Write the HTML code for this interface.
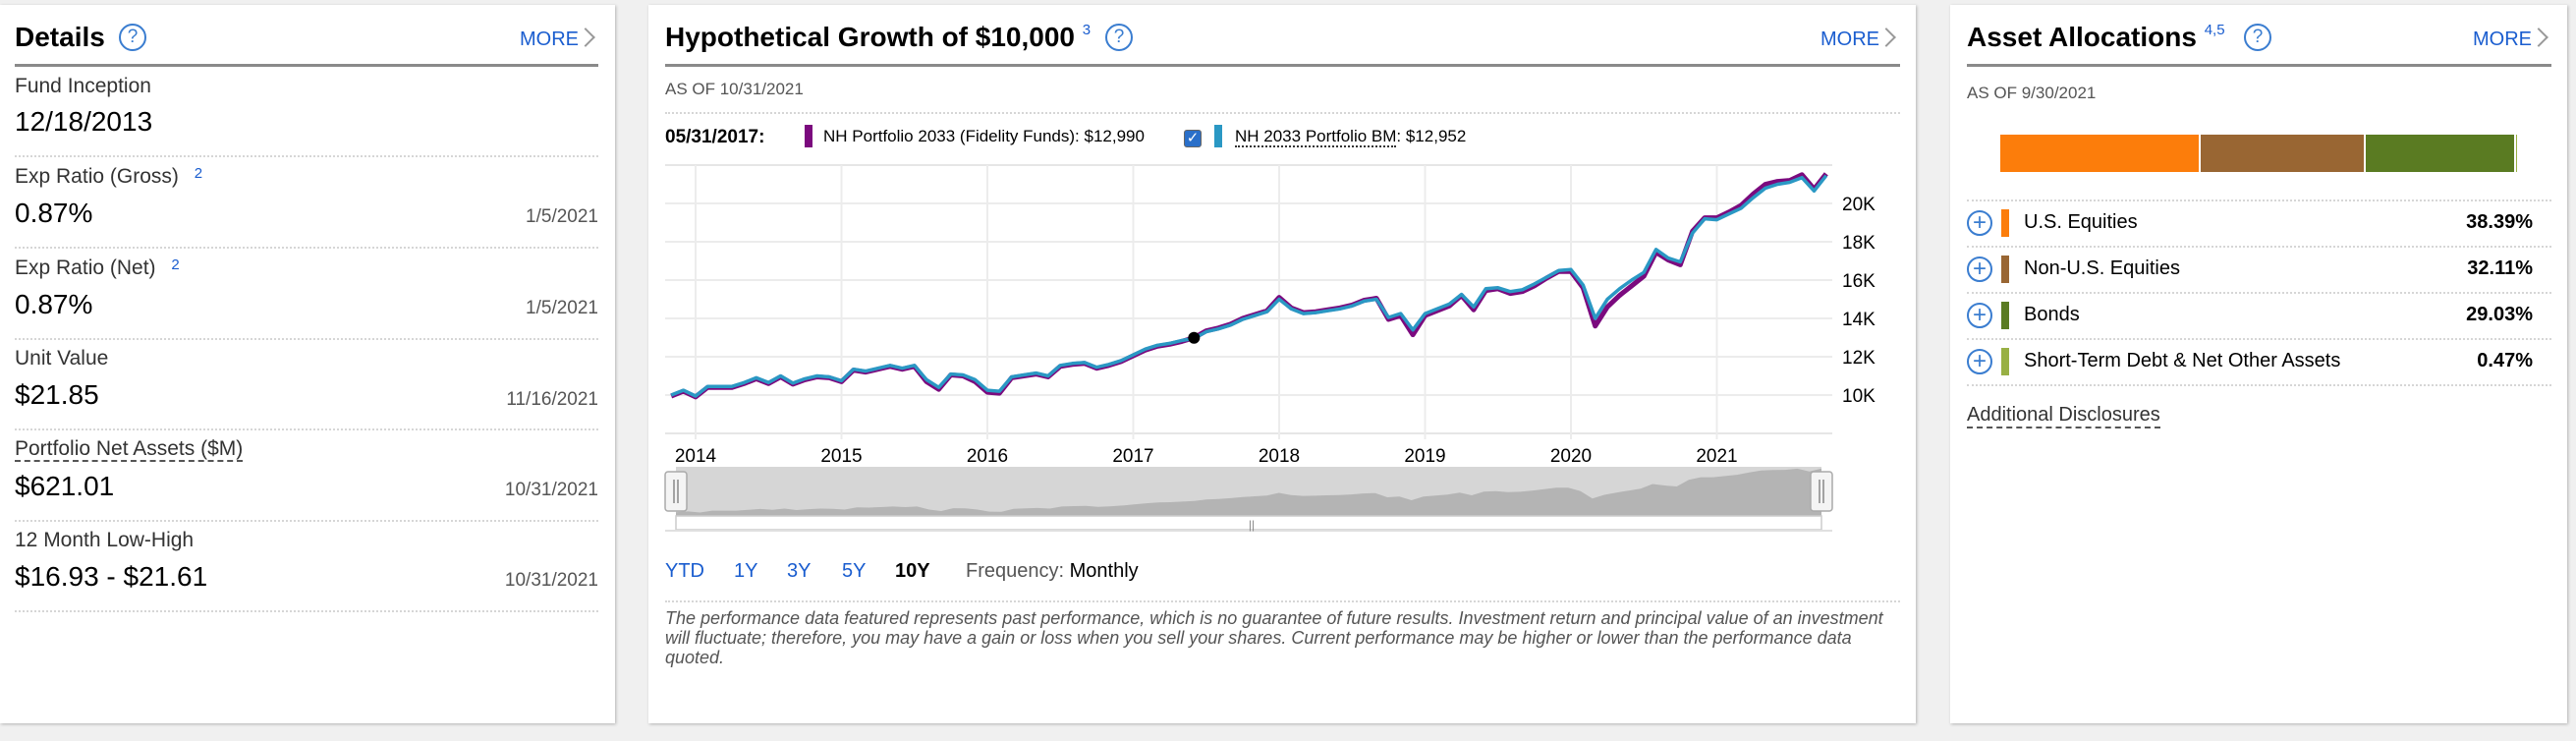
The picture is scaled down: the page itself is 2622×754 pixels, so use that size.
<!DOCTYPE html>
<html><head><meta charset="utf-8">
<style>
*{box-sizing:border-box;margin:0;padding:0}
body{width:2622px;height:754px;background:#f0f0f0;font-family:"Liberation Sans",Arial,sans-serif;position:relative;overflow:hidden;color:#000}
.panel{position:absolute;top:5px;height:731px;background:#fff;box-shadow:1px 1px 3px rgba(0,0,0,.25)}
.abs{position:absolute;white-space:nowrap}
.title{font-size:28px;font-weight:bold;top:17px}
.more{font-size:20px;color:#1a5dcf;top:24px}
.hline{position:absolute;height:3px;background:#8a8a8a;top:60px}
.dot{position:absolute;height:0;border-top:2px dotted #d6d6d6}
.help{position:absolute;width:28px;height:28px;border:2px solid #3a7dd0;border-radius:50%;color:#3a7dd0;font-size:19px;text-align:center;line-height:24px;top:19px}
.lbl{font-size:21px;color:#333}
.val{font-size:28px;color:#000}
.date{font-size:19px;color:#555;text-align:right}
.sup{font-size:15px;color:#1a5dcf;vertical-align:top;position:relative;top:0px}
.chev{position:absolute;width:14px;height:14px;border-top:2px solid #999;border-right:2px solid #999;transform:rotate(45deg)}
</style></head><body>

<!-- DETAILS PANEL -->
<div class="panel" style="left:0;width:626px">
  <div class="abs title" style="left:15px">Details</div>
  <div class="help" style="left:121px">?</div>
  <div class="abs more" style="left:529px">MORE</div>
  <div class="chev" style="left:589px;top:26px"></div>
  <div class="hline" style="left:15px;width:594px"></div>

  <div class="abs lbl" style="left:15px;top:71px">Fund Inception</div>
  <div class="abs val" style="left:15px;top:103px">12/18/2013</div>
  <div class="dot" style="left:15px;width:594px;top:153px"></div>

  <div class="abs lbl" style="left:15px;top:163px">Exp Ratio (Gross) <sup class="sup" style="margin-left:10px">2</sup></div>
  <div class="abs val" style="left:15px;top:196px">0.87%</div>
  <div class="abs date" style="right:17px;top:205px">1/5/2021</div>
  <div class="dot" style="left:15px;width:594px;top:246px"></div>

  <div class="abs lbl" style="left:15px;top:256px">Exp Ratio (Net) <sup class="sup" style="margin-left:10px">2</sup></div>
  <div class="abs val" style="left:15px;top:289px">0.87%</div>
  <div class="abs date" style="right:17px;top:298px">1/5/2021</div>
  <div class="dot" style="left:15px;width:594px;top:339px"></div>

  <div class="abs lbl" style="left:15px;top:348px">Unit Value</div>
  <div class="abs val" style="left:15px;top:381px">$21.85</div>
  <div class="abs date" style="right:17px;top:391px">11/16/2021</div>
  <div class="dot" style="left:15px;width:594px;top:431px"></div>

  <div class="abs lbl" style="left:15px;top:441px;border-bottom:2px dashed #555;line-height:22px">Portfolio Net Assets ($M)</div>
  <div class="abs val" style="left:15px;top:474px">$621.01</div>
  <div class="abs date" style="right:17px;top:483px">10/31/2021</div>
  <div class="dot" style="left:15px;width:594px;top:524px"></div>

  <div class="abs lbl" style="left:15px;top:533px">12 Month Low-High</div>
  <div class="abs val" style="left:15px;top:566px">$16.93 - $21.61</div>
  <div class="abs date" style="right:17px;top:575px">10/31/2021</div>
  <div class="dot" style="left:15px;width:594px;top:616px"></div>
</div>

<!-- GROWTH PANEL -->
<div class="panel" style="left:660px;width:1290px">
  <div class="abs title" style="left:17px">Hypothetical Growth of $10,000 <sup class="sup" style="font-weight:normal">3</sup></div>
  <div class="help" style="left:465px">?</div>
  <div class="abs more" style="left:1193px">MORE</div>
  <div class="chev" style="left:1253px;top:26px"></div>
  <div class="hline" style="left:17px;width:1257px"></div>
  <div class="abs" style="left:17px;top:76px;font-size:17px;color:#555">AS OF 10/31/2021</div>
  <div class="dot" style="left:17px;width:1257px;top:109px"></div>

  <div class="abs" style="left:17px;top:124px;font-size:19px;font-weight:bold">05/31/2017:</div>
  <div class="abs" style="left:159px;top:122px;width:8px;height:23px;background:#7b0a7e"></div>
  <div class="abs" style="left:178px;top:124px;font-size:17px">NH Portfolio 2033 (Fidelity Funds): $12,990</div>
  <div class="abs" style="left:545px;top:127px;width:18px;height:18px;background:#2a6fc9;border:1px solid #666;border-radius:3px;color:#fff;font-size:15px;line-height:16px;text-align:center">✓</div>
  <div class="abs" style="left:576px;top:122px;width:8px;height:23px;background:#2a98c4"></div>
  <div class="abs" style="left:597px;top:124px;font-size:17px"><span style="border-bottom:2px dotted #333">NH 2033 Portfolio BM</span>: $12,952</div>

  <div class="abs" style="left:17px;top:565px;font-size:20px;color:#1a5dcf">YTD</div>
  <div class="abs" style="left:87px;top:565px;font-size:20px;color:#1a5dcf">1Y</div>
  <div class="abs" style="left:141px;top:565px;font-size:20px;color:#1a5dcf">3Y</div>
  <div class="abs" style="left:197px;top:565px;font-size:20px;color:#1a5dcf">5Y</div>
  <div class="abs" style="left:251px;top:565px;font-size:20px;font-weight:bold">10Y</div>
  <div class="abs" style="left:323px;top:565px;font-size:20px;color:#555">Frequency: <span style="color:#000">Monthly</span></div>
  <div class="dot" style="left:17px;width:1257px;top:606px"></div>
  <div class="abs" style="left:17px;top:614px;width:1245px;white-space:normal;font-size:18px;line-height:20px;font-style:italic;color:#555">The performance data featured represents past performance, which is no guarantee of future results. Investment return and principal value of an investment will fluctuate; therefore, you may have a gain or loss when you sell your shares. Current performance may be higher or lower than the performance data quoted.</div>
</div>

<svg id="chart" class="abs" style="left:0;top:0" width="2622" height="754"></svg>

<!-- ASSET PANEL -->
<div class="panel" style="left:1985px;width:628px">
  <div class="abs title" style="left:17px">Asset Allocations <sup class="sup" style="font-weight:normal">4,5</sup></div>
  <div class="help" style="left:299px">?</div>
  <div class="abs more" style="left:532px">MORE</div>
  <div class="chev" style="left:592px;top:26px"></div>
  <div class="hline" style="left:17px;width:595px"></div>
  <div class="abs" style="left:17px;top:80px;font-size:17px;color:#555">AS OF 9/30/2021</div>
  <div id="allocbar" class="abs" style="left:51px;top:132px;width:526px;height:38px;display:flex"></div>
  <div id="alloclist"></div>
  <div class="abs" style="left:17px;top:405px;font-size:20px;color:#333;border-bottom:2px dashed #555;line-height:24px">Additional Disclosures</div>
</div>

<script>
const NS='http://www.w3.org/2000/svg';
// ---- chart data ----
const startYear=2013.833;
const fundValues=[9.95,10.2,9.9,10.4,10.4,10.4,10.6,10.85,10.6,10.95,10.57,10.8,10.95,10.9,10.7,11.3,11.2,11.35,11.5,11.35,11.5,10.7,10.3,11.05,11.0,10.7,10.15,10.1,10.9,11.0,11.1,10.95,11.5,11.6,11.65,11.4,11.55,11.75,12.05,12.35,12.55,12.65,12.8,12.99,13.35,13.5,13.7,14.0,14.2,14.4,15.1,14.55,14.3,14.35,14.45,14.55,14.7,14.95,15.05,13.95,14.15,13.15,14.15,14.4,14.65,15.2,14.45,15.45,15.55,15.3,15.4,15.7,16.1,16.45,16.45,15.6,13.6,14.6,15.2,15.7,16.2,17.45,17.05,16.8,18.55,19.25,19.25,19.55,19.9,20.5,21.0,21.15,21.2,21.5,20.75,21.55];
const bmValues=[10.0,10.25,9.95,10.45,10.45,10.45,10.65,10.9,10.65,11.0,10.62,10.85,11.0,10.95,10.75,11.35,11.25,11.4,11.55,11.4,11.55,10.8,10.4,11.1,11.05,10.8,10.25,10.2,10.95,11.05,11.15,11.0,11.55,11.65,11.7,11.45,11.6,11.8,12.1,12.4,12.6,12.7,12.85,12.95,13.3,13.45,13.65,13.95,14.15,14.35,15.0,14.5,14.25,14.3,14.4,14.5,14.65,14.9,15.0,14.05,14.25,13.4,14.25,14.5,14.75,15.25,14.6,15.55,15.6,15.4,15.5,15.8,16.15,16.5,16.55,15.75,14.0,15.0,15.55,16.0,16.4,17.6,17.15,16.95,18.45,19.2,19.15,19.45,19.75,20.3,20.8,21.0,21.1,21.35,20.65,21.45];
const yTicks=[10,12,14,16,18,20];
const yTickLabels=['10K','12K','14K','16K','18K','20K'];
const yearTicks=[2014,2015,2016,2017,2018,2019,2020,2021];
const markerIndex=43;

const X0=660+17, X1=660+1205, YT=168, YB=441;
function xs(t){return 708+(t-2014)*148.5;}
function ys(v){return YB-(v-8)/(22-8)*(YB-YT);}
function xNav(t){return 688+(t-startYear)/(2021.75-startYear)*(1854-688);}
function yNav(v){return 525-(v-9)/(22-9)*50;}
const svg=document.getElementById('chart');
function mk(tag,attrs,parent){const e=document.createElementNS(NS,tag);for(const k in attrs)e.setAttribute(k,attrs[k]);(parent||svg).appendChild(e);return e;}

let g=mk('line',{x1:X0,x2:X1,y1:YT,y2:YT,stroke:'#e6e6e6','stroke-width':2});


g=mk('line',{x1:X0,x2:X1,y1:YB,y2:YB,stroke:'#e6e6e6','stroke-width':2});


yTicks.forEach((v,i)=>{
  const l=mk('line',{x1:X0,x2:X1,y1:ys(v),y2:ys(v),stroke:'#ececec','stroke-width':2});
  
  
  const t=mk('text',{x:X1+10,y:ys(v)+7,'font-size':19,fill:'#000','font-family':'Liberation Sans, sans-serif'});
  t.textContent=yTickLabels[i];
  
  
});
yearTicks.forEach(yr=>{
  const x=xs(yr);
  const l=mk('line',{x1:x,x2:x,y1:YT,y2:YB+6,stroke:'#ececec','stroke-width':2});
  
  
  const t=mk('text',{x:x,y:470,'font-size':19,'text-anchor':'middle',fill:'#000','font-family':'Liberation Sans, sans-serif'});
  t.textContent=String(yr);
  
  
});
function pts(arr,fx,fy){return arr.map((v,i)=>fx(startYear+i/12).toFixed(1)+','+fy(v).toFixed(1)).join(' ');}
let p=mk('polyline',{points:pts(fundValues,xs,ys),fill:'none',stroke:'#7b0a7e','stroke-width':5,'stroke-linejoin':'round'});


p=mk('polyline',{points:pts(bmValues,xs,ys),fill:'none',stroke:'#2a98c4','stroke-width':3.5,'stroke-linejoin':'round'});


const mc=mk('circle',{cx:xs(startYear+markerIndex/12),cy:ys(fundValues[markerIndex]),r:6,fill:'#000'});



let r=mk('rect',{x:688,y:475,width:1166,height:50,fill:'#d6d6d6'});


const navPts=[xNav(startYear)+','+525].concat(fundValues.map((v,i)=>xNav(startYear+i/12).toFixed(1)+','+yNav(v).toFixed(1))).concat([xNav(2021.75)+','+525]);
p=mk('polygon',{points:navPts.join(' '),fill:'#b4b4b4'});


r=mk('rect',{x:688,y:525,width:1166,height:14,fill:'#fff',stroke:'#ccc','stroke-width':1.5});


g=mk('line',{x1:677,x2:1865,y1:540,y2:540,stroke:'#e0e0e0','stroke-width':2});


g=mk('text',{x:1274,y:538,'font-size':12,'text-anchor':'middle',fill:'#888'});
g.textContent='||';


[[677,'navigator-left-handle'],[1843,'navigator-right-handle']].forEach(([x,n])=>{
  const h=mk('rect',{x:x,y:480,width:22,height:40,rx:3,fill:'#f4f4f4',stroke:'#aaa','stroke-width':1.5});
  
  
  mk('line',{x1:x+9,x2:x+9,y1:488,y2:512,stroke:'#888','stroke-width':1.5});
  mk('line',{x1:x+13,x2:x+13,y1:488,y2:512,stroke:'#888','stroke-width':1.5});
});

// ---- allocation data ----
const allocNames=['U.S. Equities','Non-U.S. Equities','Bonds','Short-Term Debt & Net Other Assets'];
const allocValues=[38.39,32.11,29.03,0.47];
const allocColors=['#fc7d0b','#996633','#5a7b22','#98b044'];
const bar=document.getElementById('allocbar');
const list=document.getElementById('alloclist');
const panel=list.parentNode;
allocValues.forEach((v,i)=>{
  const s=document.createElement('div');
  s.style.cssText='height:100%;background:'+allocColors[i]+';width:'+v+'%;min-width:3px;flex-shrink:1;'+(i>0?'border-left:2px solid #fff;':'');
  
  
  bar.appendChild(s);
  const top=198+i*47;
  const d=document.createElement('div');
  d.className='dot';d.style.cssText='left:17px;width:595px;top:'+top+'px';
  
  
  panel.appendChild(d);
  const ic=document.createElement('div');
  ic.className='abs';
  ic.style.cssText='left:17px;top:'+(top+11)+'px;width:26px;height:26px;border:2px solid #3a7dd0;border-radius:50%;color:#3a7dd0;font-size:24px;line-height:21px;text-align:center';
  ic.textContent='+';
  
  
  panel.appendChild(ic);
  const sw=document.createElement('div');
  sw.className='abs';
  sw.style.cssText='left:52px;top:'+(top+10)+'px;width:8px;height:28px;background:'+allocColors[i];
  
  
  panel.appendChild(sw);
  const nm=document.createElement('div');
  nm.className='abs';
  nm.style.cssText='left:75px;top:'+(top+12)+'px;font-size:20px;color:#000';
  nm.textContent=allocNames[i];
  
  
  panel.appendChild(nm);
  const pc=document.createElement('div');
  pc.className='abs';
  pc.style.cssText='right:35px;top:'+(top+12)+'px;font-size:20px;font-weight:bold';
  pc.textContent=v.toFixed(2)+'%';
  
  
  panel.appendChild(pc);
});
const dl=document.createElement('div');
dl.className='dot';dl.style.cssText='left:17px;width:595px;top:386px';


panel.appendChild(dl);
</script>
</body></html>
